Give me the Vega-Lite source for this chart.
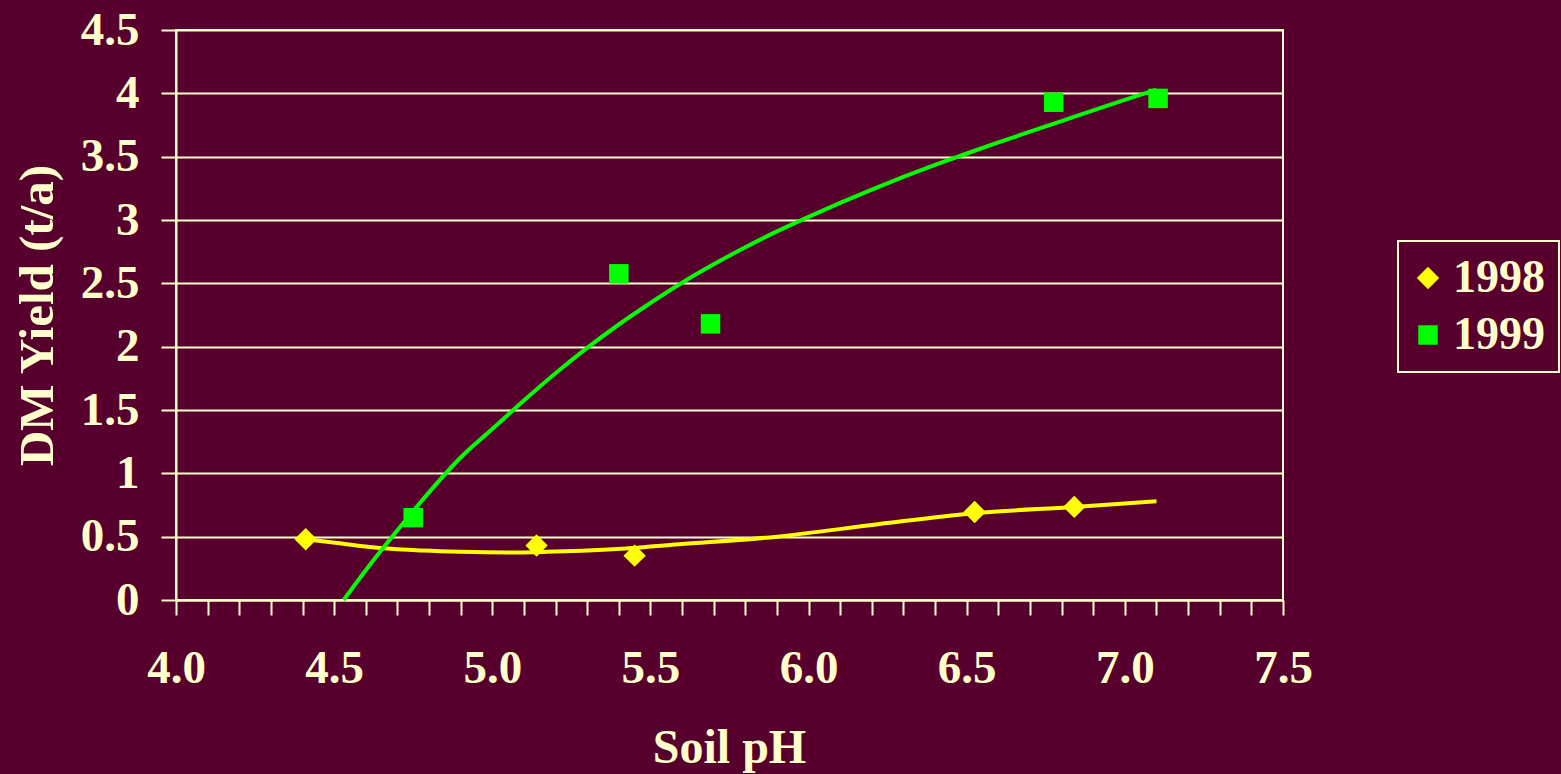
{
  "$schema": "https://vega.github.io/schema/vega-lite/v6.json",
  "width": 1107,
  "height": 570,
  "autosize": {"type": "none"},
  "padding": {"left": 176, "top": 30, "right": 278, "bottom": 174},
  "background": "#57002d",
  "view": {"stroke": "#FFFFCC", "strokeWidth": 2},
  "config": {
    "font": "Liberation Serif",
    "legend": {"strokeWidth": 2}
  },
  "datasets": {
    "obs": [
      {"pH": 4.41, "yield": 0.48, "year": "1998"},
      {"pH": 5.14, "yield": 0.43, "year": "1998"},
      {"pH": 5.45, "yield": 0.35, "year": "1998"},
      {"pH": 6.525, "yield": 0.695, "year": "1998"},
      {"pH": 6.84, "yield": 0.735, "year": "1998"},
      {"pH": 4.75, "yield": 0.65, "year": "1999"},
      {"pH": 5.40, "yield": 2.575, "year": "1999"},
      {"pH": 5.69, "yield": 2.18, "year": "1999"},
      {"pH": 6.775, "yield": 3.93, "year": "1999"},
      {"pH": 7.105, "yield": 3.96, "year": "1999"}
    ],
    "trend": [
      {"pH": 4.41, "yield": 0.48, "year": "1998"},
      {"pH": 4.51, "yield": 0.45, "year": "1998"},
      {"pH": 4.645, "yield": 0.41, "year": "1998"},
      {"pH": 4.78, "yield": 0.39, "year": "1998"},
      {"pH": 4.90, "yield": 0.38, "year": "1998"},
      {"pH": 5.05, "yield": 0.375, "year": "1998"},
      {"pH": 5.17, "yield": 0.38, "year": "1998"},
      {"pH": 5.38, "yield": 0.40, "year": "1998"},
      {"pH": 5.59, "yield": 0.44, "year": "1998"},
      {"pH": 5.90, "yield": 0.50, "year": "1998"},
      {"pH": 6.225, "yield": 0.60, "year": "1998"},
      {"pH": 6.525, "yield": 0.685, "year": "1998"},
      {"pH": 6.84, "yield": 0.735, "year": "1998"},
      {"pH": 7.10, "yield": 0.78, "year": "1998"},
      {"pH": 4.53, "yield": 0.0, "year": "1999"},
      {"pH": 4.60, "yield": 0.235, "year": "1999"},
      {"pH": 4.70, "yield": 0.55, "year": "1999"},
      {"pH": 4.80, "yield": 0.85, "year": "1999"},
      {"pH": 4.90, "yield": 1.125, "year": "1999"},
      {"pH": 5.00, "yield": 1.35, "year": "1999"},
      {"pH": 5.10, "yield": 1.575, "year": "1999"},
      {"pH": 5.20, "yield": 1.79, "year": "1999"},
      {"pH": 5.30, "yield": 1.99, "year": "1999"},
      {"pH": 5.40, "yield": 2.175, "year": "1999"},
      {"pH": 5.50, "yield": 2.345, "year": "1999"},
      {"pH": 5.60, "yield": 2.505, "year": "1999"},
      {"pH": 5.70, "yield": 2.65, "year": "1999"},
      {"pH": 5.80, "yield": 2.785, "year": "1999"},
      {"pH": 5.90, "yield": 2.91, "year": "1999"},
      {"pH": 6.00, "yield": 3.025, "year": "1999"},
      {"pH": 6.10, "yield": 3.135, "year": "1999"},
      {"pH": 6.20, "yield": 3.24, "year": "1999"},
      {"pH": 6.30, "yield": 3.34, "year": "1999"},
      {"pH": 6.40, "yield": 3.435, "year": "1999"},
      {"pH": 6.50, "yield": 3.525, "year": "1999"},
      {"pH": 6.60, "yield": 3.612, "year": "1999"},
      {"pH": 6.70, "yield": 3.697, "year": "1999"},
      {"pH": 6.80, "yield": 3.781, "year": "1999"},
      {"pH": 6.90, "yield": 3.865, "year": "1999"},
      {"pH": 7.00, "yield": 3.948, "year": "1999"},
      {"pH": 7.10, "yield": 4.03, "year": "1999"}
    ]
  },
  "encoding": {
    "x": {
      "field": "pH",
      "type": "quantitative",
      "scale": {"domain": [4.0, 7.5], "nice": false, "zero": false},
      "axis": {
        "title": "Soil pH",
        "values": [4.0, 4.1, 4.2, 4.3, 4.4, 4.5, 4.6, 4.7, 4.8, 4.9, 5.0, 5.1, 5.2, 5.3, 5.4, 5.5, 5.6, 5.7, 5.8, 5.9, 6.0, 6.1, 6.2, 6.3, 6.4, 6.5, 6.6, 6.7, 6.8, 6.9, 7.0, 7.1, 7.2, 7.3, 7.4, 7.5],
        "labelExpr": "round(datum.value*10) % 5 === 0 ? format(datum.value, '.1f') : ''",
        "labelOverlap": false,
        "labelFlush": false,
        "grid": false,
        "domainColor": "#FFFFCC",
        "domainWidth": 2,
        "tickColor": "#FFFFCC",
        "tickWidth": 2,
        "tickSize": 15,
        "encode": {
          "ticks": {
            "update": {
              "y": {"value": -9},
              "y2": {"signal": "round(datum.value*10) % 5 === 0 ? 15 : 0"}
            }
          }
        },
        "labelFont": "Liberation Serif",
        "labelFontSize": 47,
        "labelFontWeight": "bold",
        "labelColor": "#FFFFCC",
        "labelBaseline": "alphabetic",
        "labelPadding": 67,
        "titleFont": "Liberation Serif",
        "titleFontSize": 48,
        "titleFontWeight": "bold",
        "titleColor": "#FFFFCC",
        "titleBaseline": "alphabetic",
        "titleY": 162,
        "titleX": 553
      }
    },
    "y": {
      "field": "yield",
      "type": "quantitative",
      "scale": {"domain": [0, 4.5], "nice": false},
      "axis": {
        "title": "DM Yield (t/a)",
        "values": [0, 0.5, 1, 1.5, 2, 2.5, 3, 3.5, 4, 4.5],
        "format": "~g",
        "grid": true,
        "gridColor": "#FFFFCC",
        "gridWidth": 2,
        "gridOpacity": 1,
        "domainColor": "#FFFFCC",
        "domainWidth": 2,
        "tickColor": "#FFFFCC",
        "tickWidth": 2,
        "tickSize": 15,
        "labelFont": "Liberation Serif",
        "labelFontSize": 47,
        "labelFontWeight": "bold",
        "labelColor": "#FFFFCC",
        "labelPadding": 22,
        "labelBaseline": "middle",
        "labelOverlap": false,
        "labelFlush": false,
        "titleFont": "Liberation Serif",
        "titleFontSize": 49,
        "titleFontWeight": "bold",
        "titleColor": "#FFFFCC",
        "titleAngle": -90,
        "titleAlign": "center",
        "titleBaseline": "alphabetic",
        "titleX": -124,
        "titleY": 285
      }
    }
  },
  "resolve": {"legend": {"color": "independent", "shape": "independent", "size": "independent"}},
  "layer": [
    {
      "data": {"name": "trend"},
      "mark": {"type": "line", "strokeWidth": 4, "interpolate": "monotone"},
      "encoding": {
        "color": {
          "field": "year",
          "type": "nominal",
          "scale": {"domain": ["1998", "1999"], "range": ["#FFFF00", "#00FF00"]},
          "legend": null
        }
      }
    },
    {
      "data": {"name": "obs"},
      "mark": {"type": "point", "filled": true, "opacity": 1, "strokeWidth": 0},
      "encoding": {
        "size": {
          "field": "year",
          "type": "nominal",
          "scale": {"domain": ["1998", "1999"], "range": [500, 380]},
          "legend": null
        },
        "shape": {
          "field": "year",
          "type": "nominal",
          "scale": {"domain": ["1998", "1999"], "range": ["diamond", "square"]},
          "legend": {
            "title": null,
            "orient": "none",
            "legendX": 1222,
            "legendY": 211,
            "padding": 14,
            "strokeColor": "#FFFFCC",
            "labelFont": "Liberation Serif",
            "labelFontSize": 46,
            "labelFontWeight": "bold",
            "labelColor": "#FFFFCC",
            "labelOffset": 2,
            "symbolOffset": -7,
            "labelLimit": 0,
            "rowPadding": 11,
            "symbolSize": 440,
            "symbolStrokeWidth": 0,
            "symbolOpacity": 1
          }
        },
        "color": {
          "field": "year",
          "type": "nominal",
          "scale": {"domain": ["1998", "1999"], "range": ["#FFFF00", "#00FF00"]},
          "legend": {
            "title": null,
            "orient": "none",
            "legendX": 1222,
            "legendY": 211,
            "padding": 14,
            "strokeColor": "#FFFFCC",
            "labelFont": "Liberation Serif",
            "labelFontSize": 46,
            "labelFontWeight": "bold",
            "labelColor": "#FFFFCC",
            "labelOffset": 2,
            "symbolOffset": -7,
            "labelLimit": 0,
            "rowPadding": 11,
            "symbolSize": 440,
            "symbolStrokeWidth": 0,
            "symbolOpacity": 1
          }
        }
      }
    }
  ]
}
